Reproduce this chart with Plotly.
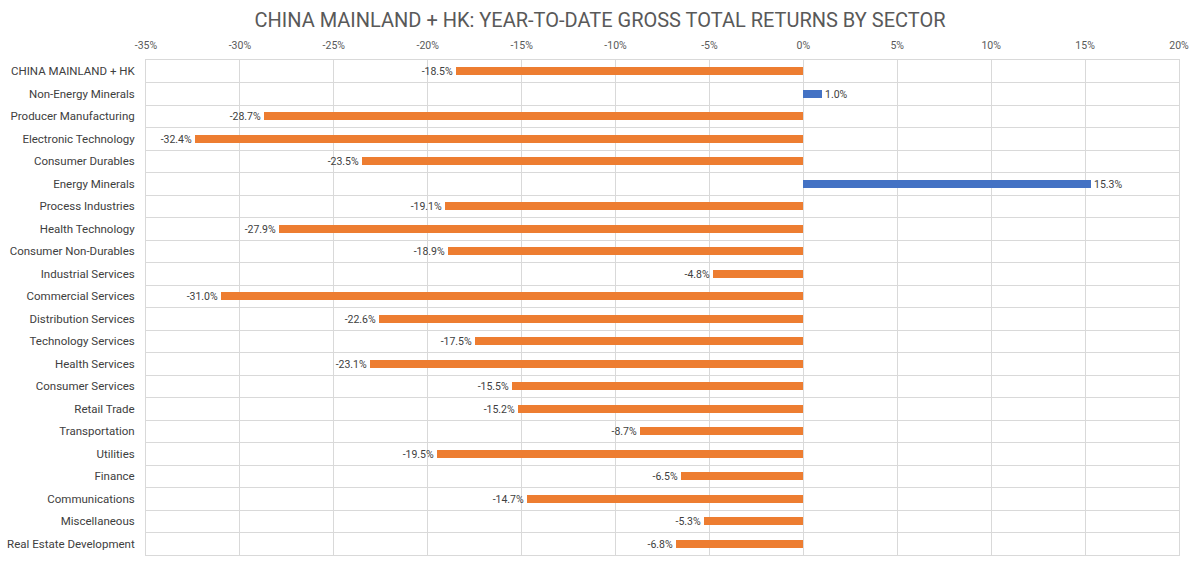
import plotly.graph_objects as go

sectors = ["CHINA MAINLAND + HK", "Non-Energy Minerals", "Producer Manufacturing",
           "Electronic Technology", "Consumer Durables", "Energy Minerals",
           "Process Industries", "Health Technology", "Consumer Non-Durables",
           "Industrial Services", "Commercial Services", "Distribution Services",
           "Technology Services", "Health Services", "Consumer Services",
           "Retail Trade", "Transportation", "Utilities", "Finance",
           "Communications", "Miscellaneous", "Real Estate Development"]
returns = [-18.5, 1.0, -28.7, -32.4, -23.5, 15.3, -19.1, -27.9, -18.9, -4.8,
           -31.0, -22.6, -17.5, -23.1, -15.5, -15.2, -8.7, -19.5, -6.5, -14.7,
           -5.3, -6.8]
tick_vals = [-35, -30, -25, -20, -15, -10, -5, 0, 5, 10, 15, 20]
tick_text = [f"{v}%" for v in tick_vals]

pos = list(range(len(sectors)))
colors = ["#4472C4" if v > 0 else "#ED7D31" for v in returns]
labels = [f"{v:.1f}%" for v in returns]

fig = go.Figure(go.Bar(
    x=returns, y=pos, orientation="h", width=0.36,
    marker=dict(color=colors, line=dict(width=0)),
    text=labels, textposition="outside", cliponaxis=False,
    constraintext="none", textangle=0,
    textfont=dict(size=10.5, color="#404040"),
))

font_family = "Roboto, 'DejaVu Sans', sans-serif"
fig.update_layout(
    width=1200, height=566,
    margin=dict(l=146, r=21, t=60, b=11),
    paper_bgcolor="white", plot_bgcolor="white",
    font=dict(family=font_family, color="#595959", size=11),
    title=dict(text="CHINA MAINLAND + HK: YEAR-TO-DATE GROSS TOTAL RETURNS BY SECTOR",
               x=0.5, xanchor="center", y=0.965, yanchor="middle",
               font=dict(size=20, color="#595959", family=font_family)),
    showlegend=False, bargap=0,
    uniformtext=dict(mode=False),
)
fig.update_xaxes(
    side="top", range=[-35, 20], tickvals=tick_vals, ticktext=tick_text,
    showgrid=True, gridcolor="#D9D9D9", gridwidth=1, zeroline=False,
    showline=True, linecolor="#D9D9D9", mirror=True, ticks="",
    tickfont=dict(size=10.5, color="#595959"), ticklabelstandoff=6,
    automargin=False,
)
fig.update_yaxes(
    range=[len(sectors) - 0.5, -0.5], tickvals=pos, ticktext=sectors,
    showgrid=False, zeroline=False, showline=True, linecolor="#D9D9D9",
    mirror=True, ticks="", tickfont=dict(size=11.5, color="#404040"),
    ticklabelstandoff=8, automargin=False,
    minor=dict(tickvals=[i + 0.5 for i in pos[:-1]], showgrid=True,
               gridcolor="#D9D9D9", gridwidth=1, ticks=""),
)

fig.write_html("out.html")
